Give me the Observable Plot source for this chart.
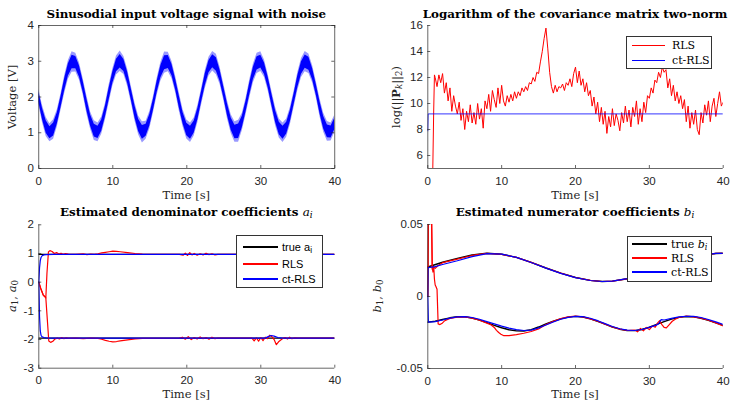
<!DOCTYPE html>
<html><head><meta charset="utf-8">
<script src="https://cdn.jsdelivr.net/npm/d3@7"></script>
<script src="https://cdn.jsdelivr.net/npm/@observablehq/plot@0.6"></script>
<style>
body{margin:0;background:#fff;}
#fig{position:relative;width:730px;height:403px;overflow:hidden;background:#fff;}
.t{position:absolute;white-space:nowrap;line-height:1;color:#000;}
.title{font-family:"DejaVu Serif",serif;font-weight:bold;font-size:11.9px;transform:translate(-50%,-50%);}
.title i{font-weight:normal;}
.xl{font-family:"DejaVu Serif",serif;font-size:11.5px;transform:translate(-50%,-50%);color:#262626;}
.yl{font-family:"DejaVu Serif",serif;font-size:11.5px;transform:translate(-50%,-50%) rotate(-90deg);color:#262626;}
sub{font-size:75%;vertical-align:-0.25em;line-height:0;}
.lgbox{position:absolute;border:1px solid #333;background:#fff;box-sizing:border-box;}
.lgline{position:absolute;}
.lgtext{position:absolute;white-space:nowrap;line-height:1;transform:translateY(-50%);color:#000;}
</style></head><body><div id="fig"></div><script>
// ---------- shared ----------
const xTicks = [0, 10, 20, 30, 40];

// ---------- panel 1: noisy sinusoid (every 0.5 s) ----------
const voltageStep = 0.5;
const voltage = [2.00,1.52,1.16,1.00,1.09,1.40,1.86,2.35,2.76,2.98,2.96,2.71,2.28,1.78,1.34,1.06,1.01,1.20,1.59,2.08,2.54,2.88,3.00,2.88,2.54,2.07,1.58,1.20,1.01,1.07,1.35,1.79,2.29,2.71,2.96,2.98,2.75,2.34,1.85,1.40,1.09,1.00,1.16,1.53,2.01,2.49,2.85,3.00,2.91,2.59,2.13,1.64,1.24,1.02,1.04,1.30,1.73,2.22,2.66,2.94,2.99,2.79,2.40,1.92,1.45,1.12,1.00,1.13,1.47,1.94,2.43,2.81,2.99,2.93,2.64,2.20,1.70,1.28,1.04,1.02,1.25];
const voltageNoise = [0.20,0.22,0.24,0.23,0.25,0.22,0.21,0.23,0.24,0.26,0.24,0.22,0.21,0.23,0.22,0.25,0.24,0.22,0.21,0.23,0.22,0.24,0.26,0.23,0.22,0.21,0.23,0.24,0.27,0.23,0.22,0.21,0.22,0.24,0.27,0.25,0.22,0.21,0.23,0.22,0.24,0.25,0.23,0.22,0.21,0.23,0.24,0.25,0.26,0.22,0.21,0.23,0.24,0.26,0.28,0.22,0.21,0.23,0.24,0.26,0.25,0.22,0.21,0.22,0.23,0.24,0.25,0.23,0.22,0.21,0.23,0.24,0.26,0.25,0.22,0.21,0.23,0.24,0.25,0.23,0.22];
const voltageYTicks = [0, 1, 2, 3, 4];

// ---------- panel 2: log covariance norm ----------
const logPHeadT = [0.65, 0.8, 0.9];
const logPHeadV = [4.0, 9.5, 12.2];
const logPStart = 1.0, logPStep = 0.25;
const logPValues = [
 12.0,11.3,12.2,11.6, 12.3,10.8,11.6,10.2, 11.2,9.4,10.6,9.8, 9.2,10.1,8.7,9.6,
 8.0,9.4,8.6,9.9, 8.5,9.3,8.4,10.0, 8.8,9.6,8.1,10.2, 9.6,10.7,9.4,11.0,
 10.3,9.7,11.2,10.0, 11.4,10.2,9.8,10.6, 10.1,10.7,10.2,10.9, 10.4,10.9,10.6,11.2,
 10.9,11.3,11.0,11.6, 11.5,12.0,11.7,12.4, 12.3,13.2,14.0,15.0, 15.8,14.2,12.4,11.3,
 10.8,11.4,10.9,11.3, 11.2,11.5,11.0,11.6, 11.4,11.9,11.3,12.3, 12.8,11.6,12.5,11.4,
 11.9,10.9,11.6,10.6, 11.0,9.8,10.5,9.2, 10.1,8.6,9.7,8.4, 9.4,7.7,9.0,8.2,
 9.6,8.3,9.2,8.7, 7.9,9.3,8.5,9.8, 8.6,9.5,8.2,9.7, 9.0,10.2,8.4,9.6,
 8.6,10.1,9.3,10.6, 10.4,11.2,10.8,11.8, 11.6,12.4,12.0,12.8, 12.4,12.6,11.2,11.9,
 10.6,11.4,10.2,10.9, 10.0,10.6,9.6,10.3, 8.6,9.8,8.1,9.3, 8.4,9.5,8.0,7.6,
 9.3,8.5,9.9,9.1, 10.2,8.6,9.8,10.4, 9.0,10.0,10.9,9.8, 10.1];
const ctLogPT = [0, 0.05, 40];
const ctLogPV = [7.9, 9.2, 9.2];
const logPYTicks = [6, 8, 10, 12, 14, 16];

// ---------- panel 3: denominator coefficients ----------
const trueAT = [0, 40];
const trueA1 = [0.97, 0.97];
const trueA0 = [-1.95, -1.95];
const rlsA1T = [0,0.3,0.6,0.8,0.95,1.1,1.3,1.5,1.8,2.1,2.4,2.7,3.0,3.3,3.6,4,5,6,6.5,7,7.5,8,8.5,9,9.5,10,10.5,11,12,13,14,15,19,19.5,19.8,20.1,20.4,20.7,21,21.4,21.8,22.2,22.6,23,23.4,23.8,24.2,25,40];
const rlsA1 = [0,-0.25,-0.45,-0.5,-0.55,0.3,1.05,1.1,1.07,1.0,1.03,0.98,1.01,0.97,1.0,0.98,0.97,0.99,0.96,0.98,0.97,0.99,1.02,1.04,1.06,1.08,1.07,1.06,1.03,1.0,0.98,0.97,0.97,0.94,1.01,0.93,1.03,0.95,1.0,0.94,0.99,0.95,1.01,0.96,0.99,0.95,0.97,0.97,0.97];
const rlsA0T = [0,0.3,0.6,0.8,0.95,1.15,1.35,1.6,1.9,2.2,2.5,2.8,3.1,3.4,3.7,4,5,6,7,8,8.5,9,9.5,10,10.5,11,12,13,14,19,19.4,19.8,20.2,20.6,21,21.4,21.8,22.2,22.6,23,23.4,23.8,24.2,25,28.8,29.1,29.4,29.7,30,30.3,30.6,30.9,31.2,31.5,31.8,32.1,32.4,32.7,33,33.3,33.6,33.9,34.2,34.6,35,40];
const rlsA0 = [0,-0.25,-0.45,-0.5,-0.55,-1.3,-2.05,-2.1,-2.06,-1.98,-1.95,-1.98,-1.93,-1.97,-1.94,-1.96,-1.95,-1.97,-1.95,-1.96,-1.99,-2.03,-2.06,-2.08,-2.07,-2.05,-2.01,-1.98,-1.96,-1.95,-1.92,-1.99,-1.9,-2.0,-1.93,-1.98,-1.91,-1.97,-1.93,-1.99,-1.92,-1.97,-1.95,-1.95,-1.95,-2.05,-1.94,-2.06,-1.93,-2.04,-1.92,-1.97,-1.85,-1.9,-2.0,-2.18,-2.08,-2.02,-1.96,-1.93,-1.98,-1.92,-1.97,-1.94,-1.95,-1.95];
const ctA1T = [0,0.1,0.2,0.3,0.45,0.7,1.0,2,40];
const ctA1 = [0,0.5,0.75,0.86,0.92,0.95,0.96,0.97,0.97];
const ctA0T = [0,0.1,0.2,0.3,0.45,0.7,1.0,2,30.6,31.0,31.4,31.8,32.3,33,40];
const ctA0 = [0,-1.2,-1.7,-1.85,-1.91,-1.93,-1.94,-1.95,-1.95,-1.9,-1.86,-1.88,-1.93,-1.95,-1.95];
const aYTicks = [-3, -2, -1, 0, 1, 2];

// ---------- panel 4: numerator coefficients ----------
const trueB1T = [0,2,4,6,8,10,12,14,16,18,20,22,23.6,25,27,29,31,33,35,37,39,40];
const trueB1 = [0.0205,0.0238,0.0265,0.0288,0.0300,0.0293,0.0272,0.0237,0.0198,0.0162,0.0132,0.0112,0.0104,0.0107,0.0123,0.0151,0.0187,0.0225,0.0260,0.0285,0.0299,0.0300];
const trueB0Step = 1;
const trueB0 = [-0.0178,-0.0172,-0.0160,-0.0148,-0.0141,-0.0141,-0.0149,-0.0164,-0.0182,-0.0200,-0.0217,-0.0231,-0.0239,-0.0240,-0.0230,-0.0212,-0.0191,-0.0172,-0.0155,-0.0143,-0.0138,-0.0142,-0.0155,-0.0172,-0.0192,-0.0212,-0.0227,-0.0236,-0.0237,-0.0229,-0.0213,-0.0194,-0.0174,-0.0157,-0.0145,-0.0139,-0.0141,-0.0151,-0.0166,-0.0183,-0.0201];
const rlsB1T = [0,0.08,0.5,0.6,0.8,1.0,1.4,2,4,6,8,10,12,14,16,18,20,22,23.6,25,27,29,31,33,35,37,39,40];
const rlsB1 = [0,0.06,0.06,0.019,0.0205,0.0195,0.0215,0.0235,0.026,0.0285,0.030,0.0293,0.0272,0.0237,0.0198,0.0162,0.0132,0.0112,0.0104,0.0107,0.0123,0.0151,0.0187,0.0225,0.026,0.0285,0.0299,0.03];
const rlsB0T = [0,0.08,0.5,0.6,0.7,0.8,0.9,1.0,1.1,1.25,1.4,1.6,1.9,2.3,3,4,5,6,7,8,8.5,9.0,9.3,9.6,9.9,10.3,11,12,13,14,15,16,17,18,19,20,21,22,23,24,25,26,27,28,28.4,28.8,29.2,29.6,30.0,30.4,30.8,31.1,31.4,31.7,32.0,32.3,32.7,33.1,33.5,34,35,36,37,38,39,40];
const rlsB0 = [0,0.06,0.06,0.02,0.017,0.021,0.012,0.008,0.007,0.005,-0.019,-0.0195,-0.0188,-0.0168,-0.0152,-0.0143,-0.0141,-0.015,-0.0165,-0.0185,-0.0195,-0.0215,-0.0235,-0.025,-0.0262,-0.0272,-0.0272,-0.0265,-0.0255,-0.0243,-0.0225,-0.0195,-0.0172,-0.0153,-0.0141,-0.0136,-0.0141,-0.0155,-0.0172,-0.0192,-0.0212,-0.0227,-0.0236,-0.0233,-0.0245,-0.0222,-0.0238,-0.0215,-0.023,-0.0205,-0.0213,-0.0185,-0.0168,-0.0195,-0.0215,-0.0218,-0.0195,-0.0172,-0.0158,-0.0146,-0.0136,-0.0142,-0.015,-0.0165,-0.0183,-0.0205];
const ctB1T = [0,0.05,1,2,4,6,8,10,12,14,16,18,20,22,23.6,25,27,29,31,33,35,37,39,40];
const ctB1 = [0,0.0200,0.0208,0.0222,0.0248,0.0277,0.0298,0.0294,0.0272,0.0236,0.0197,0.0161,0.0131,0.0111,0.0104,0.0107,0.0124,0.0152,0.0188,0.0226,0.0261,0.0286,0.0299,0.0300];
const ctB0T = [0,0.08,1,2,3,4,5,6,7,8,9,10,11,12,13,14,15,16,17,18,19,20,21,22,23,24,25,26,27,28,29,30,31,31.3,31.6,32,33,34,35,36,37,38,39,40];
const ctB0 = [0,-0.0178,-0.0174,-0.0163,-0.015,-0.0142,-0.014,-0.0146,-0.0158,-0.0174,-0.019,-0.0206,-0.022,-0.023,-0.0236,-0.0233,-0.0218,-0.0198,-0.0177,-0.0158,-0.0145,-0.0138,-0.014,-0.0151,-0.0168,-0.0188,-0.0208,-0.0224,-0.0234,-0.0236,-0.0229,-0.0214,-0.0197,-0.0188,-0.016,-0.0163,-0.0152,-0.0142,-0.0137,-0.0138,-0.0146,-0.016,-0.0176,-0.0194];
const bYTicks = [-0.05, 0, 0.05];

// ---------- helpers ----------
const ink = "#262626";
const RED = "#ff0000", BLUE = "#0000ff", BLACK = "#000000";
const pts = (T, V) => V.map((v, i) => ({t: T[i], v})).filter(d => d.t !== undefined);
const fig = document.getElementById("fig");

function panel({left, top, width, height, mL, mR, mT, mB, yDomain, yTicks, box = false, marks}) {
  const pw = width - mL - mR, ph = height - mT - mB;
  const fmt = d => String(d);
  const lw = 0.7;
  const all = [...marks];
  if (box) {
    all.push(Plot.frame({stroke: ink, strokeWidth: lw}));
    all.push(Plot.tickX(xTicks, {x: d => d, insetBottom: ph - 3, stroke: ink, strokeWidth: lw}));
    all.push(Plot.tickY(yTicks, {y: d => d, insetLeft: pw - 3, stroke: ink, strokeWidth: lw}));
  } else {
    all.push(Plot.ruleX([0], {stroke: ink, strokeWidth: lw}));
    all.push(Plot.ruleY([yDomain[0]], {stroke: ink, strokeWidth: lw}));
  }
  all.push(
    Plot.tickX(xTicks, {x: d => d, insetTop: ph - 3, stroke: ink, strokeWidth: lw}),
    Plot.tickY(yTicks, {y: d => d, insetRight: pw - 3, stroke: ink, strokeWidth: lw}),
    Plot.axisX(xTicks, {tickSize: 0, tickPadding: 8, fill: ink, fontSize: 11.5, label: null, tickFormat: fmt}),
    Plot.axisY(yTicks, {tickSize: 0, tickPadding: 5, fill: ink, fontSize: 11.5, label: null, tickFormat: fmt})
  );
  const svg = Plot.plot({
    width, height, marginLeft: mL, marginRight: mR, marginTop: mT, marginBottom: mB,
    x: {domain: [0, 40]}, y: {domain: yDomain},
    style: {fontFamily: '"Liberation Sans", Arial, sans-serif', background: "transparent", overflow: "visible"},
    marks: all
  });
  svg.style.position = "absolute";
  svg.style.left = left + "px";
  svg.style.top = top + "px";
  fig.appendChild(svg);
}

function text(cls, x, y, html) {
  const d = document.createElement("div");
  d.className = "t " + cls;
  d.style.left = x + "px"; d.style.top = y + "px";
  d.innerHTML = html;
  fig.appendChild(d);
}

function legend({x, y, w, h, font, size, lw, rows}) {
  const b = document.createElement("div");
  b.className = "lgbox";
  Object.assign(b.style, {left: x + "px", top: y + "px", width: w + "px", height: h + "px"});
  fig.appendChild(b);
  for (const r of rows) {
    const l = document.createElement("div");
    l.className = "lgline";
    Object.assign(l.style, {left: r.x1 + "px", top: (r.y - lw / 2) + "px", width: (r.x2 - r.x1) + "px", height: lw + "px", backgroundColor: r.color});
    fig.appendChild(l);
    const t = document.createElement("div");
    t.className = "lgtext";
    Object.assign(t.style, {left: r.tx + "px", top: r.y + "px", fontFamily: font, fontSize: size + "px"});
    t.innerHTML = r.html;
    fig.appendChild(t);
  }
}

// ---------- build panel data ----------
const vData = voltage.map((v, i) => ({t: i * voltageStep, v, n: voltageNoise[i] ?? 0.23}));
const logPData = [...pts(logPHeadT, logPHeadV), ...logPValues.map((v, i) => ({t: logPStart + i * logPStep, v}))];
const trueB0Data = trueB0.map((v, i) => ({t: i * trueB0Step, v}));

const line = (data, stroke, sw) => Plot.line(data, {x: "t", y: "v", stroke, strokeWidth: sw, clip: true});

// Panel 1
panel({left: 0, top: 0, width: 365, height: 200, mL: 38.3, mR: 30.7, mT: 25, mB: 32,
  yDomain: [0, 4], yTicks: voltageYTicks, box: true,
  marks: [
    Plot.areaY(vData, {x: "t", y1: d => d.v - d.n * 1.1, y2: d => d.v + d.n * 1.1, fill: BLUE, fillOpacity: 0.4, clip: true}),
    Plot.areaY(vData, {x: "t", y1: d => d.v - d.n * 0.72, y2: d => d.v + d.n * 0.72, fill: BLUE, clip: true}),
  ]});

// Panel 2
panel({left: 365, top: 0, width: 365, height: 200, mL: 62.3, mR: 7.3, mT: 25, mB: 32,
  yDomain: [5, 16], yTicks: logPYTicks,
  marks: [
    line(logPData, RED, 1),
    line(pts(ctLogPT, ctLogPV), BLUE, 0.8),
  ]});

// Panel 3
panel({left: 0, top: 200, width: 365, height: 203, mL: 38.3, mR: 30.7, mT: 24.3, mB: 35.3,
  yDomain: [-3, 2], yTicks: aYTicks,
  marks: [
    line(pts(trueAT, trueA1), BLACK, 1.4),
    line(pts(trueAT, trueA0), BLACK, 1.4),
    line(pts(rlsA1T, rlsA1), RED, 1.2),
    line(pts(rlsA0T, rlsA0), RED, 1.2),
    line(pts(ctA1T, ctA1), BLUE, 1.2),
    line(pts(ctA0T, ctA0), BLUE, 1.2),
  ]});

// Panel 4
panel({left: 365, top: 200, width: 365, height: 203, mL: 62.3, mR: 7.3, mT: 24, mB: 35,
  yDomain: [-0.05, 0.05], yTicks: bYTicks,
  marks: [
    line(pts(trueB1T, trueB1), BLACK, 1.4),
    line(trueB0Data, BLACK, 1.4),
    line(pts(rlsB1T, rlsB1), RED, 1.2),
    line(pts(rlsB0T, rlsB0), RED, 1.2),
    line(pts(ctB1T, ctB1), BLUE, 1.2),
    line(pts(ctB0T, ctB0), BLUE, 1.2),
  ]});

// ---------- titles & labels ----------
text("title", 186.3, 15, "Sinusodial input voltage signal with noise");
text("title", 575, 15, "Logarithm of the covariance matrix two-norm");
text("title", 186.3, 213, "Estimated denominator coefficients <i>a<sub>i</sub></i>");
text("title", 575, 213, "Estimated numerator coefficients <i>b<sub>i</sub></i>");
text("xl", 186.3, 195.5, "Time [s]");
text("xl", 575, 195.5, "Time [s]");
text("xl", 186.3, 395, "Time [s]");
text("xl", 575, 395, "Time [s]");
text("yl", 13.3, 96.5, "Voltage [V]");
text("yl", 396.7, 96.5, "log(||<b>P</b><sub><i>k</i></sub>||<sub>2</sub>)");
text("yl", 13.3, 296, "<i>a</i><sub>1</sub>, <i>a</i><sub>0</sub>");
text("yl", 378, 296, "<i>b</i><sub>1</sub>, <i>b</i><sub>0</sub>");

// ---------- legends ----------
legend({x: 626, y: 36, w: 86, h: 33, font: '"DejaVu Serif", serif', size: 11, lw: 1, rows: [
  {y: 45, x1: 632, x2: 665, tx: 672, color: RED, html: "RLS"},
  {y: 60, x1: 632, x2: 665, tx: 672, color: BLUE, html: "ct-RLS"},
]});
legend({x: 236, y: 235, w: 87, h: 53, font: '"Liberation Sans", Arial, sans-serif', size: 11, lw: 1.5, rows: [
  {y: 247, x1: 243, x2: 278, tx: 282, color: BLACK, html: "true a<sub>i</sub>"},
  {y: 264, x1: 243, x2: 278, tx: 282, color: RED, html: "RLS"},
  {y: 279, x1: 243, x2: 278, tx: 282, color: BLUE, html: "ct-RLS"},
]});
legend({x: 627, y: 236, w: 85, h: 46, font: '"DejaVu Serif", serif', size: 11, lw: 1.5, rows: [
  {y: 244, x1: 632, x2: 667, tx: 671, color: BLACK, html: "true <i>b<sub>i</sub></i>"},
  {y: 258, x1: 632, x2: 667, tx: 671, color: RED, html: "RLS"},
  {y: 272, x1: 632, x2: 667, tx: 671, color: BLUE, html: "ct-RLS"},
]});
</script></body></html>
